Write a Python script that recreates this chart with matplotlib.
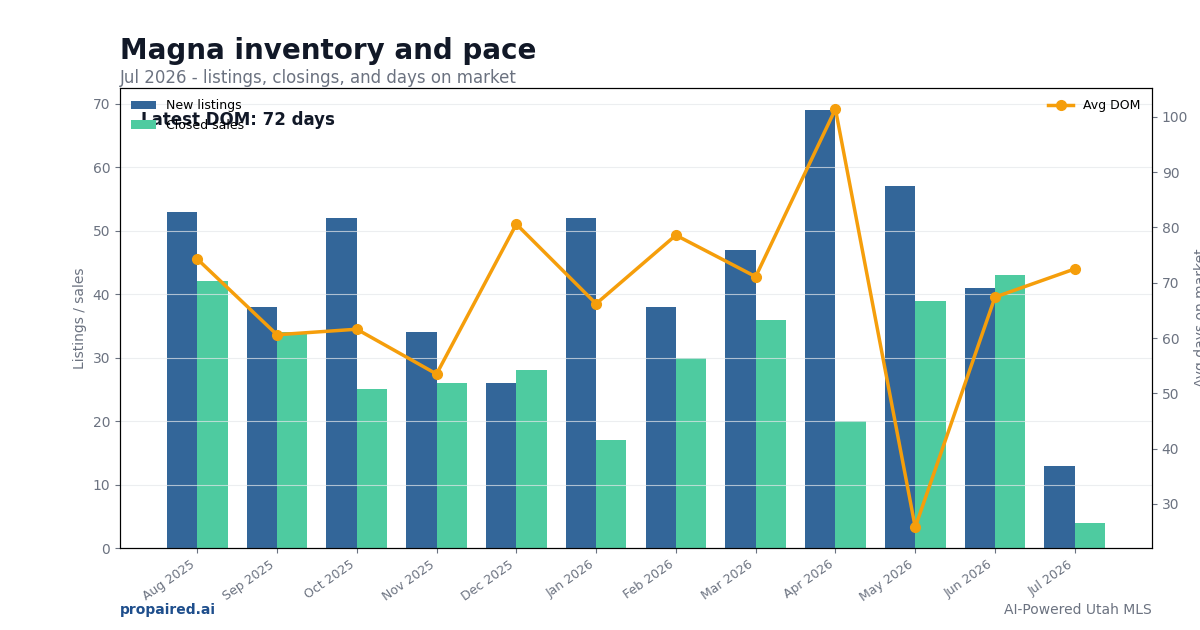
import numpy as np
import matplotlib
matplotlib.use('Agg')
import matplotlib.pyplot as plt

# data
months = ['Aug 2025', 'Sep 2025', 'Oct 2025', 'Nov 2025', 'Dec 2025', 'Jan 2026',
          'Feb 2026', 'Mar 2026', 'Apr 2026', 'May 2026', 'Jun 2026', 'Jul 2026']
new_listings = [53, 38, 52, 34, 26, 52, 38, 47, 69, 57, 41, 13]
closed_sales = [42, 34, 25, 26, 28, 17, 30, 36, 20, 39, 43, 4]
avg_dom = [74.3, 60.6, 61.6, 53.5, 80.6, 66.2, 78.6, 71.1, 101.4, 25.8, 67.4, 72.5]

c_new = '#336699'
c_closed = '#4ecba0'
c_dom = '#f59e0b'
gray = '#6b7280'

fig = plt.figure(figsize=(12, 6.3), dpi=100)
ax = fig.add_axes([0.1, 0.13, 0.86, 0.73])
x = np.arange(len(months))
w = 0.38
ax.bar(x - w/2, new_listings, w, color=c_new, label='New listings')
ax.bar(x + w/2, closed_sales, w, color=c_closed, label='Closed sales')
ax.set_ylim(0, max(new_listings) * 1.05)
ax.grid(axis='y', color='#e5e7eb', linewidth=0.8, alpha=0.7)
ax.set_ylabel('Listings / sales', color=gray, fontsize=10)
ax.set_xticks(x)
ax.set_xticklabels(months, rotation=35, ha='right', fontsize=9, color=gray)
ax.tick_params(axis='y', colors=gray, labelsize=10)
ax.tick_params(axis='x', colors=gray)
ax.legend(loc='upper left', frameon=False, fontsize=9)

ax2 = ax.twinx()
ax2.plot(x, avg_dom, color=c_dom, linewidth=2.5, marker='o', markersize=7, label='Avg DOM')
ax2.set_ylabel('Avg days on market', color=gray, fontsize=10)
ax2.tick_params(axis='y', colors=gray, labelsize=10)
ax2.legend(loc='upper right', frameon=False, fontsize=9)

# annotation sits on top of the legend, same as the original
ax.text(0.02, 0.95, 'Latest DOM: %d days' % int(avg_dom[-1]), transform=ax.transAxes,
        fontsize=12, fontweight='bold', color='#111827', va='top')

fig.text(0.1, 0.906, 'Magna inventory and pace', fontsize=20, fontweight='bold',
         color='#111827', va='baseline')
fig.text(0.1, 0.868, 'Jul 2026 - listings, closings, and days on market', fontsize=12,
         color=gray, va='baseline')
fig.text(0.1, 0.025, 'propaired.ai', fontsize=10, fontweight='bold', color='#1e4e8c')
fig.text(0.96, 0.025, 'AI-Powered Utah MLS', fontsize=10, color=gray, ha='right')

fig.savefig('out.png', dpi=100)
